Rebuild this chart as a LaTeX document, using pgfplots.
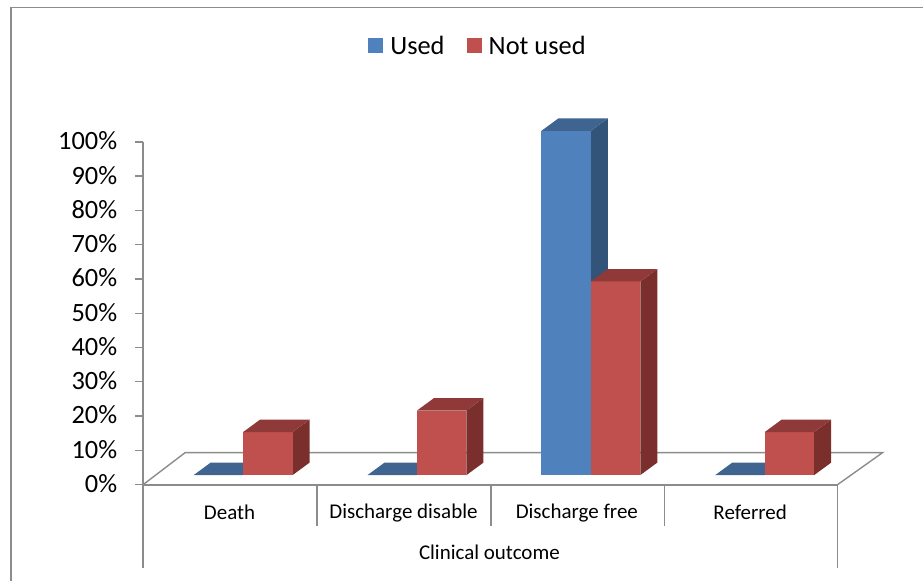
\documentclass[border=0pt]{standalone}
\usepackage{pgfplots}
\pgfplotsset{compat=1.18}
\usepackage{fontspec}
\setmainfont{Carlito}
\definecolor{bF}{HTML}{4F81BD}\definecolor{bT}{HTML}{3E648F}\definecolor{bS}{HTML}{335479}
\definecolor{rF}{HTML}{C0504D}\definecolor{rT}{HTML}{8F3A38}\definecolor{rS}{HTML}{7A2F2D}
\definecolor{axg}{HTML}{8C8C8C}
% left edge, value, front, top, side colours
\newcommand\cuboid[5]{%
  \pgfmathsetmacro\xa{#1}\pgfmathsetmacro\xb{#1+49.5}%
  \pgfmathsetmacro\xc{\xa+17}\pgfmathsetmacro\xd{\xb+17}%
  \pgfmathsetmacro\ya{2.77}\pgfmathsetmacro\yb{2.77+1.0044*#2}%
  \pgfmathsetmacro\yc{\ya+3.64}\pgfmathsetmacro\yd{\yb+3.64}%
  \ifdim #2pt>0pt
  \addplot[draw=none,fill=#5,forget plot] coordinates {(\xb,\ya)(\xd,\yc)(\xd,\yd)(\xb,\yb)} --cycle;
  \addplot[draw=none,fill=#3,forget plot] coordinates {(\xa,\ya)(\xb,\ya)(\xb,\yb)(\xa,\yb)} --cycle;
  \fi
  \addplot[draw=none,fill=#4,forget plot] coordinates {(\xa,\yb)(\xb,\yb)(\xd,\yd)(\xc,\yd)} --cycle;
}
\begin{document}
\begin{tikzpicture}
\begin{axis}[
  x=1pt,y=3.43pt,xmin=143,xmax=838,ymin=0,ymax=100,clip=false,
  axis x line=bottom,axis y line=left,
  axis line style={-,draw=axg,line width=1.6pt},
  x axis line style={line width=2.2pt},
  xtick={229.5,403.5,577,750.5},
  xticklabels={Death,Discharge disable,Discharge free,Referred},
  x tick label style={font=\fontsize{21}{21}\selectfont,anchor=center,yshift=-20pt},
  major x tick style={draw=none},
  ytick={0,10,...,100},
  yticklabel={\pgfmathprintnumber{\tick}\%},
  /pgf/number format/assume math mode=true,
  y tick label style={font=\fontsize{26.4}{26.4}\selectfont,anchor=east,xshift=-14.5pt,yshift=1pt},
  tick style={draw=axg,line width=1.4pt},
  tick align=outside,major tick length=8pt,
  legend columns=2,
  legend style={draw=none,fill=none,at={(axis cs:478,128)},anchor=center,
    font=\fontsize{26.4}{26.4}\selectfont,
    /tikz/every even column/.style={column sep=20pt},inner sep=0pt},
  legend image code/.code={\fill[#1,draw=none] (0pt,-7.5pt) rectangle (15pt,7.5pt);\path (20pt,0pt);},
]
\path[draw=none] (axis cs:-0.3,141.4) rectangle (axis cs:923.7,-28.0);
\draw[axg,line width=1.5pt] (axis cs:10.5,-28.0) -- (axis cs:10.5,139.2) -- (axis cs:923.7,139.2);
% floor
\draw[axg,line width=1.4pt] (axis cs:143,0) -- (axis cs:185,9.33) -- (axis cs:883,9.33) -- (axis cs:838,0);
% category separators
\draw[axg,line width=1.4pt] (axis cs:143,0) -- (axis cs:143,-24.2);
\draw[axg,line width=1.4pt] (axis cs:838,0) -- (axis cs:838,-24.2);
\draw[axg,line width=1.4pt] (axis cs:317,0) -- (axis cs:317,-11.95);
\draw[axg,line width=1.4pt] (axis cs:491,0) -- (axis cs:491,-11.95);
\draw[axg,line width=1.4pt] (axis cs:664.5,0) -- (axis cs:664.5,-11.95);
\node[font=\fontsize{21}{21}\selectfont] at (axis cs:489.5,-19.8) {Clinical outcome};
\addlegendimage{fill=bF}\addlegendentry{Used}
\addlegendimage{fill=rF}\addlegendentry{Not used}
% Used
\cuboid{193.5}{0}{bF}{bT}{bS}
\cuboid{367.5}{0}{bF}{bT}{bS}
\cuboid{541.5}{100}{bF}{bT}{bS}
\cuboid{715.5}{0}{bF}{bT}{bS}
% Not used
\cuboid{243}{12.5}{rF}{rT}{rS}
\cuboid{417}{18.75}{rF}{rT}{rS}
\cuboid{591}{56.25}{rF}{rT}{rS}
\cuboid{765}{12.5}{rF}{rT}{rS}
\end{axis}
\end{tikzpicture}
\end{document}
